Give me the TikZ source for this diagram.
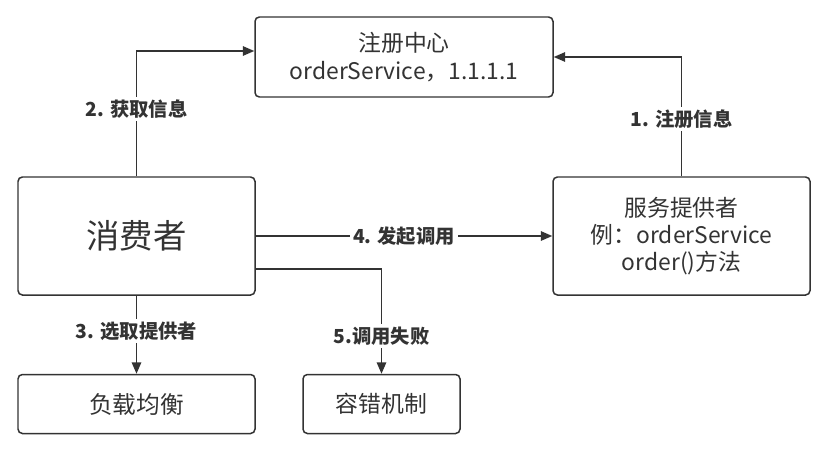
\documentclass[tikz,border=0pt]{standalone}
\usepackage{fontspec}
\setmainfont{Noto Sans CJK SC}
\usetikzlibrary{arrows.meta}
\definecolor{ink}{HTML}{333333}
\tikzset{
  box/.style={draw=ink, line width=0.85pt, rounded corners=2.5pt, align=center, text=ink,
    font=\fontsize{13}{15.5}\selectfont, inner sep=0pt},
  lbl/.style={fill=white, text=ink, font=\fontsize{11}{12}\selectfont\bfseries, inner sep=1.5pt},
  arr/.style={draw=ink, line width=0.85pt, -{Triangle[length=6.5pt,width=5.4pt]}}
}
\begin{document}
\begin{tikzpicture}
\useasboundingbox (0,0) rectangle (16.52,-8.98);
% boxes
\node[box, minimum width=5.96cm, minimum height=1.6cm] (reg) at (8.08,-1.14) {注册中心\\orderService，1.1.1.1};
\node[box, minimum width=4.74cm, minimum height=2.36cm, font=\fontsize{19}{22}\selectfont] (cons) at (2.73,-4.72) {消费者};
\node[box, minimum width=5.14cm, minimum height=2.36cm] (prov) at (13.63,-4.72) {服务提供者\\例：orderService\\order()方法};
\node[box, minimum width=4.74cm, minimum height=1.18cm, font=\fontsize{13.5}{15.5}\selectfont] (lb) at (2.73,-8.08) {负载均衡};
\node[box, minimum width=3.14cm, minimum height=1.18cm] (ft) at (7.63,-8.08) {容错机制};
% connectors
\draw[arr] (prov.north) |- (reg.east) node[lbl, pos=0.24] (l1) {1. 注册信息};
\draw[arr] (cons.north) |- ([yshift=1.2mm]reg.west) node[lbl, pos=0.27] (l2) {2. 获取信息};
\draw[arr] (cons.south) -- (lb.north) node[lbl, pos=0.45] (l3) {3. 选取提供者};
\draw[arr] (cons.east) -- (prov.west) node[lbl, midway] (l4) {4. 发起调用};
\draw[arr] ([yshift=-6.6mm]cons.east) -| (ft.north) node[lbl, pos=0.82] (l5) {5.调用失败};
\end{tikzpicture}
\end{document}
